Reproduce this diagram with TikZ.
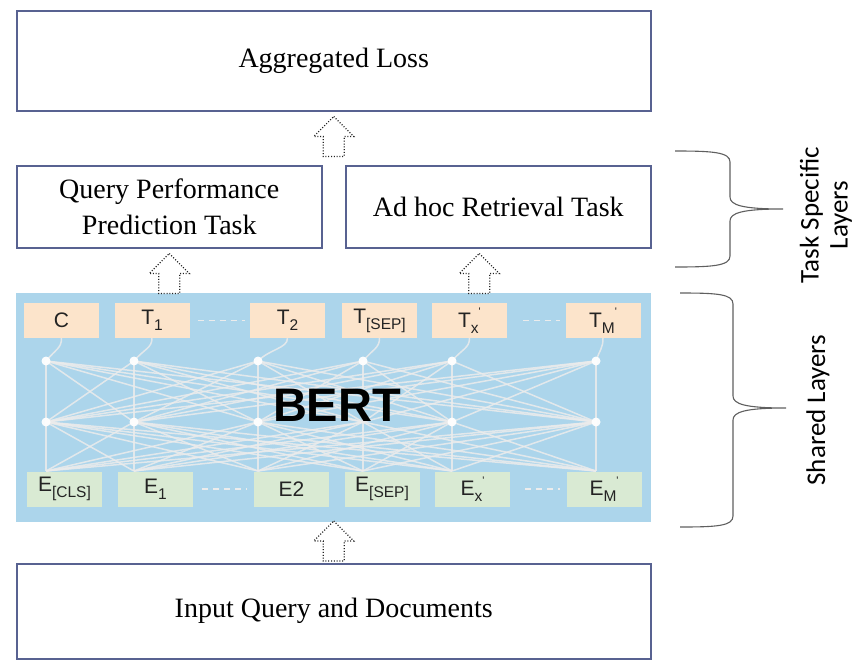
\documentclass[tikz,border=0pt]{standalone}
\usepackage{fontspec}
\setmainfont{Liberation Serif}
\setsansfont{Liberation Sans}
\newfontfamily\calib{Carlito}
\usetikzlibrary{calc}
\definecolor{boxc}{RGB}{88,98,145}
\definecolor{bertblue}{RGB}{172,213,235}
\definecolor{peach}{RGB}{252,228,203}
\definecolor{lgreen}{RGB}{217,234,211}
\definecolor{netc}{RGB}{236,236,236}
\definecolor{bracec}{RGB}{95,95,95}
\definecolor{arrowc}{RGB}{35,35,35}
\definecolor{tokt}{RGB}{35,35,35}
\newcommand{\subt}[1]{\raisebox{-0.28em}{\fontsize{15.5}{16}\selectfont #1}}
\newcommand{\qs}{\raisebox{0.55em}{\fontsize{11}{11}\selectfont\textquotesingle}}
\begin{document}
\begin{tikzpicture}[x=1pt,y=-1pt,
  box/.style={draw=boxc, line width=1.5pt, fill=white, anchor=north west, inner sep=0pt,
    align=center, font=\fontsize{28}{36}\selectfont},
  tokbox/.style={minimum width=75pt, minimum height=35pt, inner sep=0pt, text=tokt,
    font=\sffamily\fontsize{21}{24}\selectfont},
  ttok/.style={tokbox, fill=peach},
  btok/.style={tokbox, fill=lgreen},
  net/.style={draw=netc, line width=1.5pt, opacity=0.85},
  dotn/.style={circle, fill=white, inner sep=0pt, minimum size=9pt, opacity=0.95},
  sepl/.style={draw=netc, line width=1.8pt, dash pattern=on 6pt off 5pt},
  arrowst/.style={draw=arrowc, line width=1.2pt, dash pattern=on 1pt off 1.8pt, fill=white},
  bracest/.style={draw=bracec, line width=1.1pt},
  sidelab/.style={rotate=90, align=center, font=\calib\fontsize{27}{29}\selectfont},
  barrow/.pic={\path[arrowst] (0,0) -- (20,20) -- (10.5,20) -- (10.5,40) -- (-10.5,40)
     -- (-10.5,20) -- (-20,20) -- cycle;}
]
\useasboundingbox (0,0) rectangle (858,664);

% boxes
\node[box, minimum width=634pt, minimum height=100pt] (agg) at (16,10) {Aggregated Loss};
\node[box, minimum width=305pt, minimum height=82pt] (qpp) at (16,165) {Query Performance\\Prediction Task};
\node[box, minimum width=305pt, minimum height=82pt] (adhoc) at (345,165) {Ad hoc Retrieval Task};
\node[anchor=north west, fill=bertblue, minimum width=635pt, minimum height=229pt, inner sep=0pt] (bert) at (16,293) {};
\node[box, minimum width=634pt, minimum height=95pt] (inp) at (16,563) {Input Query and Documents};

% token boxes
\node[ttok] (tc) at (61.5,320.5) {C};
\node[ttok] (tt1) at (152,320.5) {T\subt{1}};
\node[ttok] (tt2) at (287.5,320.5) {T\subt{2}};
\node[ttok] (tsep) at (379.5,320.5) {T\subt{[SEP]}};
\node[ttok] (ttx) at (469.5,320.5) {T\subt{x}\qs};
\node[ttok] (ttm) at (603,320.5) {T\subt{M}\qs};

\node[btok] (ecls) at (64.5,489) {E\subt{[CLS]}};
\node[btok] (ee1) at (155.5,489) {E\subt{1}};
\node[btok] (ee2) at (291.5,489) {E2};
\node[btok] (esep) at (382,489) {E\subt{[SEP]}};
\node[btok] (eex) at (472.5,489) {E\subt{x}\qs};
\node[btok] (eem) at (604,489) {E\subt{M}\qs};

% dashed separators
\draw[sepl, shorten <=8pt, shorten >=5pt] (tt1) -- (tt2);
\draw[sepl, shorten <=16pt, shorten >=5pt] (ttx) -- (ttm);
\draw[sepl, shorten <=9pt, shorten >=7pt] (ee1) -- (ee2);
\draw[sepl, shorten <=15pt, shorten >=6pt] (eex) -- (eem);

% network coordinates
\foreach \x [count=\i] in {46,134,258,363,452,596} {
  \coordinate (t\i) at (\x,361);
  \coordinate (b\i) at (\x,422);
  \coordinate (ea\i) at (\x,471);
}
\foreach \i in {1,...,6} {
  \foreach \j in {1,...,6} {
    \draw[net] (t\i) -- (b\j);
    \draw[net] (b\i) -- (ea\j);
  }
}
% curves from output tokens
\draw[net] (tc.south) .. controls +(0,10) and +(10,-12) .. (t1);
\draw[net] (tt1.south) .. controls +(0,10) and +(10,-12) .. (t2);
\draw[net] (tt2.south) .. controls +(0,10) and +(12,-12) .. (t3);
\draw[net] (tsep.south) .. controls +(0,10) and +(10,-12) .. (t4);
\draw[net] (ttx.south) .. controls +(0,10) and +(10,-12) .. (t5);
\draw[net] (ttm.south) .. controls +(0,10) and +(4,-12) .. (t6);

\foreach \i in {1,...,6} { \node[dotn] (dt\i) at (t\i) {}; }
\foreach \i in {1,2,3,5,6} { \node[dotn] (db\i) at (b\i) {}; }

\node[font=\sffamily\bfseries\fontsize{47}{50}\selectfont, text=black] (berttxt) at (337,405) {BERT};

% block arrows
\pic at ($(agg.south)+(0,5)$) {barrow};
\pic at ($(qpp.south)+(0,5)$) {barrow};
\pic at ($(adhoc.south)+(-19,5)$) {barrow};
\pic at ($(inp.north)+(0,-42)$) {barrow};

% braces
\draw[bracest] (675,151) .. controls (712,151) and (730,152) .. (730,162) -- (730,197)
  .. controls (730,205) and (742,209) .. (783,209)
  .. controls (742,209) and (730,213) .. (730,221) -- (730,256)
  .. controls (730,266) and (712,267) .. (675,267);
\draw[bracest] (680,293) .. controls (717,293) and (733,294) .. (733,304) -- (733,396)
  .. controls (733,404) and (745,408) .. (786,408)
  .. controls (745,408) and (733,412) .. (733,420) -- (733,516)
  .. controls (733,526) and (717,527) .. (680,527);

\node[sidelab] (tsl) at (826,215) {Task Specific\\Layers};
\node[sidelab] (shl) at (818,410) {Shared Layers};
\end{tikzpicture}
\end{document}
